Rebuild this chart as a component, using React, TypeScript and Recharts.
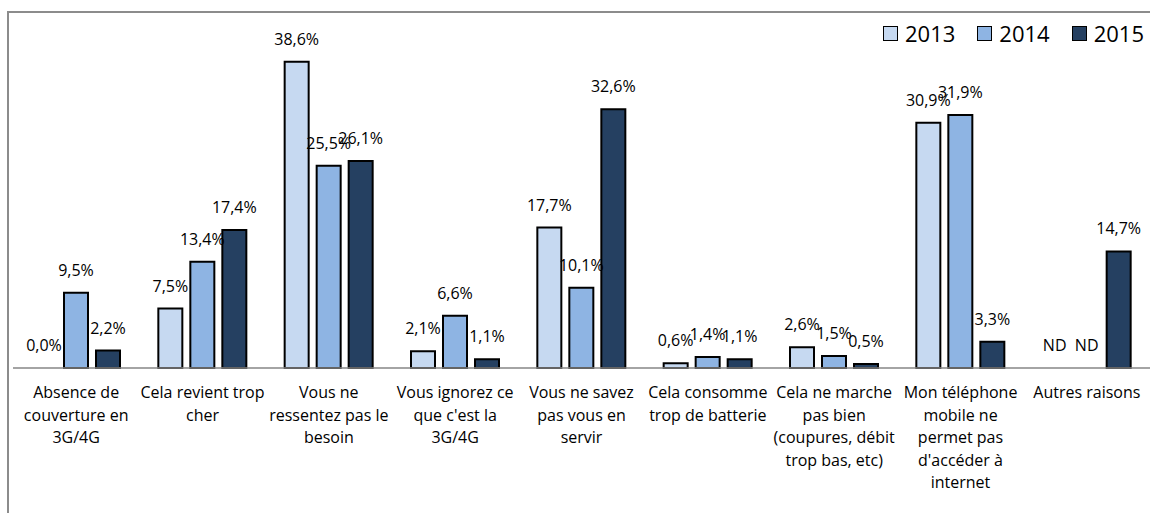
import { BarChart, Bar, XAxis, YAxis, LabelList, Legend, Rectangle } from "recharts"

const categories = [
  "Absence de\ncouverture en\n3G/4G",
  "Cela revient trop\ncher",
  "Vous ne\nressentez pas le\nbesoin",
  "Vous ignorez ce\nque c'est la\n3G/4G",
  "Vous ne savez\npas vous en\nservir",
  "Cela consomme\ntrop de batterie",
  "Cela ne marche\npas bien\n(coupures, débit\ntrop bas, etc)",
  "Mon téléphone\nmobile ne\npermet pas\nd'accéder à\ninternet",
  "Autres raisons",
]

// null = ND (non disponible)
const values2013 = [0.0, 7.5, 38.6, 2.1, 17.7, 0.6, 2.6, 30.9, null]
const values2014 = [9.5, 13.4, 25.5, 6.6, 10.1, 1.4, 1.5, 31.9, null]
const values2015 = [2.2, 17.4, 26.1, 1.1, 32.6, 1.1, 0.5, 3.3, 14.7]

const years = ["2013", "2014", "2015"]
const colors = ["#C6D9F1", "#8EB4E3", "#254061"]

const fmt = (v: number | null) => (v == null ? "ND" : v.toFixed(1).replace(".", ",") + "%")

const data = categories.map((name, i) => ({
  name,
  v2013: values2013[i] ?? 0,
  v2014: values2014[i] ?? 0,
  v2015: values2015[i] ?? 0,
  l2013: fmt(values2013[i]),
  l2014: fmt(values2014[i]),
  l2015: fmt(values2015[i]),
}))

const FONT = "'Open Sans', sans-serif"

function CategoryTick(props: any) {
  const { x, y, payload } = props
  const lines = String(payload.value).split("\n")
  return (
    <text x={x} y={y} textAnchor="middle" fontSize={16} fill="#000" fontFamily={FONT}>
      {lines.map((line, i) => (
        <tspan key={i} x={x} dy={i === 0 ? 30 : 22.5}>
          {line}
        </tspan>
      ))}
    </text>
  )
}

// zero / ND bars get a tiny invisible height so that their label is still placed
function BarShape(props: any) {
  if (!props.height || props.height < 1) return <g />
  return <Rectangle {...props} />
}

function YearLegend() {
  return (
    <div style={{ display: "flex", alignItems: "center", fontFamily: FONT, fontSize: 22, color: "#000" }}>
      {years.map((y, i) => (
        <div key={y} style={{ display: "flex", alignItems: "center", marginRight: i < 2 ? 22 : 0 }}>
          <span
            style={{
              display: "inline-block",
              width: 13,
              height: 13,
              background: colors[i],
              border: "1.5px solid #000",
              marginRight: 7,
            }}
          />
          <span style={{ lineHeight: "22px" }}>{y}</span>
        </div>
      ))}
    </div>
  )
}

export default function App() {
  return (
    <div
      style={{
        position: "absolute",
        left: 0,
        top: 0,
        width: 1150,
        height: 513,
        overflow: "hidden",
        background: "#fff",
        fontFamily: FONT,
      }}
    >
      <div
        style={{
          position: "absolute",
          left: 7,
          top: 11,
          width: 1300,
          height: 600,
          borderTop: "2px solid #8c8c8c",
          borderLeft: "2px solid #8c8c8c",
        }}
      />
      <BarChart
        width={1150}
        height={513}
        data={data}
        margin={{ top: 11, right: 0, left: 13, bottom: 5 }}
        barSize={24}
        barGap={8}
        style={{ position: "absolute", left: 0, top: 0 }}
      >
        <XAxis
          dataKey="name"
          interval={0}
          height={140}
          tickLine={false}
          tickSize={0}
          tickMargin={0}
          tick={<CategoryTick />}
          axisLine={{ stroke: "#868686", strokeWidth: 1.5 }}
        />
        <YAxis hide domain={[0, 45]} />
        <Legend
          layout="horizontal"
          verticalAlign="middle"
          align="center"
          content={<YearLegend />}
          wrapperStyle={{ top: 22, left: 883, width: "auto" }}
        />
        {years.map((y, i) => (
          <Bar
            key={y}
            dataKey={"v" + y}
            fill={colors[i]}
            stroke="#000"
            strokeWidth={2}
            minPointSize={0.5}
            shape={<BarShape />}
            isAnimationActive={false}
          >
            <LabelList
              dataKey={"l" + y}
              position="top"
              offset={17}
              fontSize={16}
              fill="#000"
              fontFamily={FONT}
            />
          </Bar>
        ))}
      </BarChart>
    </div>
  )
}
